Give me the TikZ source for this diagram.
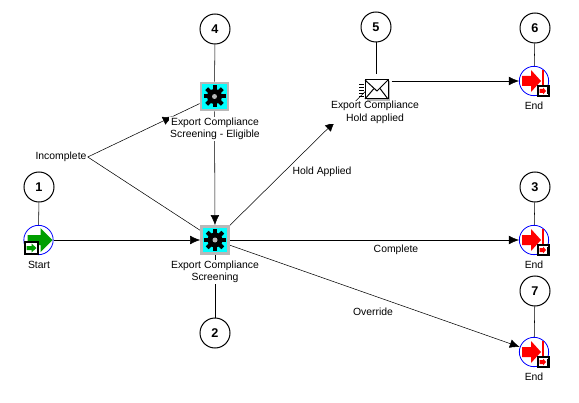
\documentclass[tikz,border=0pt]{standalone}
\usepackage{fontspec}
\setmainfont{Liberation Sans}
\usetikzlibrary{arrows.meta,calc,backgrounds}
\definecolor{wfCyan}{HTML}{00FFFF}
\definecolor{wfGray}{HTML}{B8B8B8}
\definecolor{wfBlue}{HTML}{0000FF}
\definecolor{wfRed}{HTML}{FF0000}
\definecolor{wfGreen}{HTML}{009E00}

\begin{document}
\begin{tikzpicture}[
  x=0.75pt, y=-0.75pt,
  line width=0.75pt,
  font=\fontsize{7.8}{9.4}\selectfont,
  numcirc/.style={draw, circle, inner sep=0pt, minimum size=22.5pt, font=\fontsize{9.5}{11}\selectfont\bfseries},
  activity/.style={draw=wfGray, fill=wfCyan, line width=1.8pt, inner sep=0pt, minimum size=20.5pt},
  funcnode/.style={draw=wfBlue, fill=white, circle, line width=0.6pt, inner sep=0pt, minimum size=22pt},
  mailnode/.style={inner sep=0pt, minimum width=22.5pt, minimum height=9pt},
  lab/.style={fill=white, align=center, inner sep=0.6pt},
  flow/.style={-{Latex[length=7.5pt,width=6.5pt]}},
  gearicon/.pic={
    \fill[black] (0,0) circle (7.5);
    \foreach \a in {0,45,...,315}{
      \fill[black, rotate=\a] (-2,-11) rectangle (2,0);
    }
    \fill[wfGray] (0,0) circle (2.5);
  },
  starticon/.pic={
    \fill[wfGreen] (-11,-5) -- (2,-5) -- (2,-12) -- (14,0) -- (2,12) -- (2,5) -- (-11,5) -- cycle;
    \draw[fill=white, line width=1.5pt] (-14,2) rectangle (-1,14);
    \fill[wfGreen] (-12,6) -- (-7,6) -- (-7,3.5) -- (-2,8) -- (-7,12.5) -- (-7,10) -- (-12,10) -- cycle;
  },
  endicon/.pic={
    \fill[wfRed] (-12,-5) -- (-3,-5) -- (-3,-11) -- (7,0) -- (-3,11) -- (-3,5) -- (-12,5) -- cycle;
    \fill[wfRed] (7.5,-11) rectangle (9.5,11);
    \draw[fill=white, line width=0.9pt] (4,5) rectangle (15,15);
    \fill[wfRed] (5.5,8) -- (9,8) -- (9,6.5) -- (12,10) -- (9,13.5) -- (9,12) -- (5.5,12) -- cycle;
    \fill[black] (12.5,6.5) rectangle (14,13.5);
  },
  mailicon/.pic={
    \fill[wfGray] (-9,0.5) rectangle (14,20);
    \draw[fill=white] (-11,-1) rectangle (12,18);
    \draw (-11,-1) -- (1,10) -- (12,-1);
    \draw (-11,18) -- (-2,7.5) (12,18) -- (4,7.5);
    \foreach \y in {3,6,...,15}{
      \draw[line width=0.5pt] (-17,\y) -- (-12,\y);
    }
  }
]
\useasboundingbox (0,0) rectangle (579,403);
% numbered circles
\foreach \n/\x/\y in {1/39/187, 2/215/333, 3/535/187, 4/215/29, 5/376/27, 6/535/28, 7/535/291}{
  \node[numcirc] (num\n) at (\x,\y) {\n};
}
% icons
\node[activity] (act4) at (214.5,96.5) {};
\pic at (act4) {gearicon};
\node[activity] (act2) at (215,240) {};
\pic at (act2) {gearicon};
\node[funcnode] (start) at (38.5,240) {};
\pic at (start) {starticon};
\node[mailnode] (mail) at (376,81) {};
\pic at (mail) {mailicon};
\foreach \e/\y in {end6/81, end3/240, end7/352}{
  \node[funcnode] (\e) at (534,\y) {};
  \pic at (\e) {endicon};
}
% labels
\node[lab] (lblstart) at (39,264.5) {Start};
\node[lab] (lblact4) at (215,129) {Export Compliance\\Screening - Eligible};
\node[lab] (lblact2) at (215,272) {Export Compliance\\Screening};
\node[lab] (lblmail) at (375,112.5) {Export Compliance\\Hold applied};
\node[lab] (lblend6) at (534,106) {End};
\node[lab] (lblend3) at (534,265) {End};
\node[lab] (lblend7) at (534,377) {End};
\node[lab] (incomplete) at (61,157) {Incomplete};
\node[lab] (lblhold) at (322,172) {Hold Applied};
\node[lab] (lblcomplete) at (396,249.5) {Complete};
\node[lab] (lbloverride) at (373,312) {Override};
% connectors
\begin{scope}[on background layer]
\foreach \a/\b in {num1/start, num4/act4, num5/mail, num6/end6, num3/end3, num7/end7, num2/act2}{
  \draw (\a) -- (\b);
}
\coordinate (tipact4) at ($(incomplete.east)!0.67!(act4)$);
\coordinate (tipmail) at ($(act2)!0.745!(mail)$);
\draw[flow] (incomplete.east) -- (tipact4);
\draw (tipact4) -- (act4);
\draw (incomplete.east) -- (act2);
\draw[flow] (act4) -- (act2);
\draw[flow] (start) -- (act2);
\draw[flow] (act2) -- (tipmail);
\draw (tipmail) -- (mail);
\draw[flow] (mail) -- (end6);
\draw[flow] (act2) -- (end3);
\draw[flow] (act2) -- (end7);
\end{scope}
\end{tikzpicture}
\end{document}
